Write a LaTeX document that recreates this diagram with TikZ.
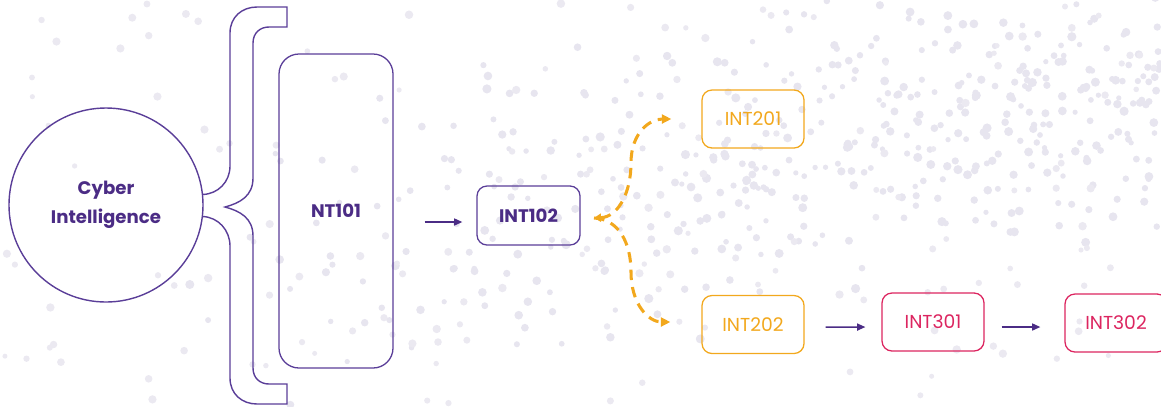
\documentclass[tikz,border=0pt]{standalone}
\usepackage{fontspec}
\setmainfont{Poppins}
\usetikzlibrary{arrows.meta,calc}
\definecolor{ipurple}{HTML}{4B2C85}
\definecolor{lpurple}{HTML}{5A3E98}
\definecolor{iorange}{HTML}{F2A81D}
\definecolor{ipink}{HTML}{DC2560}
\definecolor{dotc}{HTML}{E7E5EF}
\tikzset{
  box/.style={draw, rounded corners=0.3cm, minimum width=3.06cm, minimum height=1.74cm, line width=1.1pt, font=\fontsize{16}{18}\selectfont},
  purplebox/.style={box, draw=lpurple, text=ipurple, font=\fontsize{15.5}{18}\selectfont\bfseries},
  orangebox/.style={box, draw=iorange, text=iorange},
  pinkbox/.style={box, draw=ipink, text=ipink},
  flow/.style={draw=ipurple, line width=1.2pt, -{Triangle[length=7pt,width=6pt]}},
  branch/.style={draw=iorange, line width=2.6pt, dash pattern=on 9pt off 6pt, -{Triangle[length=8pt,width=7.5pt]}},
}
\begin{document}
\begin{tikzpicture}[x=0.03cm,y=-0.03cm]
\useasboundingbox (0,0) rectangle (1161,406);
\clip (0,0) rectangle (1161,406);
% background dots
\pgfmathsetseed{11}
\foreach \i in {1,...,480}{
  \pgfmathsetmacro\px{180+981*sqrt(rnd)}
  \pgfmathsetmacro\py{330-0.22*\px+170*(rnd+rnd-1)}
  \pgfmathsetmacro\pr{2.6+2*rnd}
  \fill[dotc] (\px,\py) circle[radius=\pr];
}
\foreach \i in {1,...,160}{
  \pgfmathsetmacro\px{1161*rnd}
  \pgfmathsetmacro\py{406*rnd}
  \pgfmathsetmacro\pr{2.5+1.8*rnd}
  \fill[dotc!85] (\px,\py) circle[radius=\pr];
}
% circle
\node[circle, draw=lpurple, line width=1.2pt, minimum size=5.82cm, text=ipurple,
      font=\fontsize{15.5}{25}\selectfont\bfseries, align=center] (cyber) at (106,205) {Cyber\\Intelligence};
% brace
\draw[lpurple, line width=1.2pt]
  (202.5,194.5) .. controls (218,194) and (230,182) .. (230,166)
  -- (230,33) .. controls (230,17) and (242,7) .. (257,7)
  -- (287,7) -- (287,27) -- (269,27)
  .. controls (260,27) and (253,33) .. (253,43)
  -- (253,178) .. controls (253,196) and (240,203) .. (225,207)
  .. controls (240,211) and (253,218) .. (253,236)
  -- (253,368) .. controls (253,378) and (260,384) .. (269,384)
  -- (287,384) -- (287,404) -- (257,404)
  .. controls (242,404) and (230,394) .. (230,378)
  -- (230,246) .. controls (230,230) and (218,217) .. (202.5,216.5);
% boxes
\node[purplebox, rounded corners=0.6cm, minimum width=3.42cm, minimum height=9.42cm] (nt) at (336,211) {NT101};
\node[purplebox, minimum width=3.09cm, minimum height=1.77cm] (i102) at (528.5,215.5) {INT102};
\node[orangebox] (i201) at (753,119) {INT201};
\node[orangebox] (i202) at (753,324.5) {INT202};
\node[pinkbox] (i301) at (933,322) {INT301};
\node[pinkbox] (i302) at (1116,323) {INT302};
% arrows
\draw[flow, shorten <=0.93cm, shorten >=0.42cm] ([yshift=-0.33cm]nt.east) -- ([yshift=-0.195cm]i102.west);
\draw[flow, shorten <=0.63cm, shorten >=0.48cm] ([yshift=-0.08cm]i202.east) -- ([yshift=-0.15cm]i301.west);
\draw[flow, shorten <=0.51cm, shorten >=0.72cm] ([yshift=-0.15cm]i301.east) -- ([yshift=-0.12cm]i302.west);
% dashed branches
\coordinate (split) at ([xshift=0.4cm,yshift=-0.075cm]i102.east);
\coordinate (m1) at (631,163);
\coordinate (m2) at (631,272);
\coordinate (e1) at ([xshift=-0.9cm]i201.west);
\coordinate (e2) at ([xshift=-0.93cm,yshift=0.075cm]i202.west);
\draw[branch, {Triangle[length=6pt,width=7pt]}-{Triangle[length=8pt,width=7.5pt]}] (split) .. controls +(24,-1) and +(0,30) .. (m1) .. controls +(0,-30) and +(-22,0) .. (e1);
\draw[branch] (split) .. controls +(24,1) and +(0,-30) .. (m2) .. controls +(0,32) and +(-22,0) .. (e2);
\end{tikzpicture}
\end{document}
